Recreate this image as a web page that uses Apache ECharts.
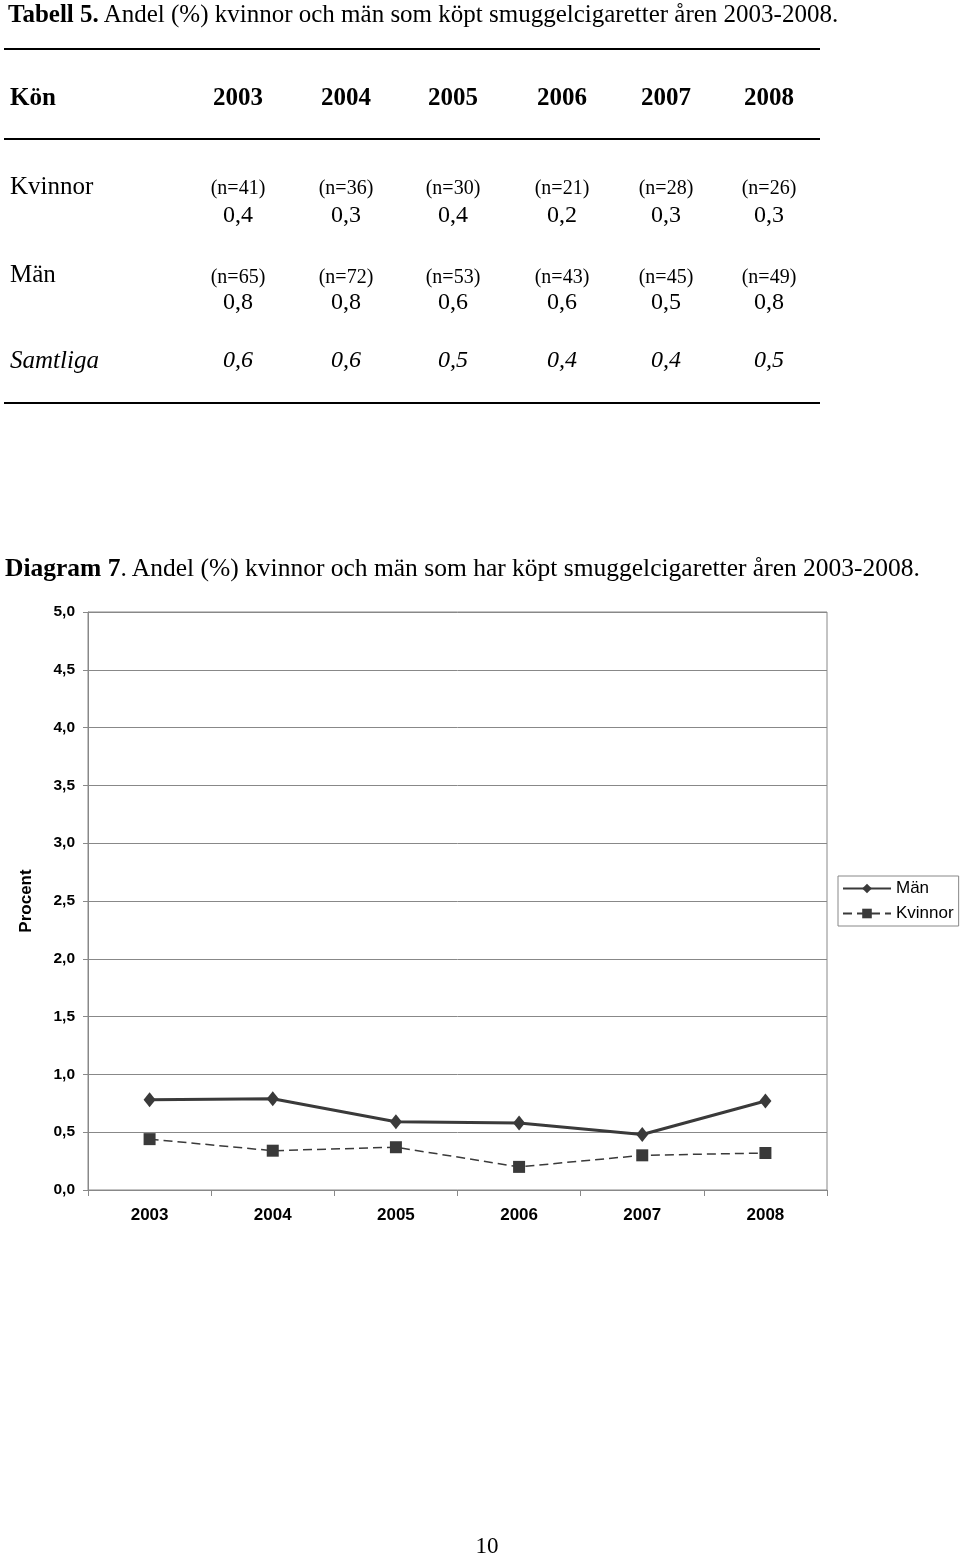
<!DOCTYPE html>
<html><head><meta charset="utf-8">
<script src="https://cdn.jsdelivr.net/npm/echarts@6/dist/echarts.min.js"></script>
<style>
body{margin:0;background:#fff;}
#page{position:relative;width:960px;height:1556px;overflow:hidden;font-family:"Liberation Serif","Times New Roman",serif;color:#000}
#chart{position:absolute;left:0;top:0;width:960px;height:1556px}
.t{position:absolute;white-space:nowrap;transform:translate(-50%,-50%);line-height:1}
.l{position:absolute;white-space:nowrap;transform:translateY(-50%);line-height:1}
.hr{position:absolute;height:1.5px;background:#000}
</style></head>
<body><div id="page"><div id="chart"></div></div>
<script>
// ---- data ----
const years = ['2003','2004','2005','2006','2007','2008'];
const manValues = [0.78,0.79,0.59,0.58,0.48,0.77];
const kvinnorValues = [0.44,0.34,0.37,0.20,0.30,0.32];
const tableKvinnorN = ['(n=41)','(n=36)','(n=30)','(n=21)','(n=28)','(n=26)'];
const tableKvinnorPct = ['0,4','0,3','0,4','0,2','0,3','0,3'];
const tableManN = ['(n=65)','(n=72)','(n=53)','(n=43)','(n=45)','(n=49)'];
const tableManPct = ['0,8','0,8','0,6','0,6','0,5','0,8'];
const tableTotalPct = ['0,6','0,6','0,5','0,4','0,4','0,5'];

// ---- table (HTML text) ----
const page = document.getElementById('page');
const colX = [238,346,453,562,666,769];
function add(cls, x, y, text, style){
  const d = document.createElement('div');
  d.className = cls; d.style.left = x+'px'; d.style.top = y+'px';
  d.innerHTML = text; if(style) d.style.cssText += style; page.appendChild(d); return d;
}
add('l', 8, 13, '<b>Tabell 5.</b> Andel (%) kvinnor och män som köpt smuggelcigaretter åren 2003-2008.', 'font-size:25px');
[48,138,402].forEach(y=>{const h=document.createElement('div');h.className='hr';h.style.left='4px';h.style.width='816px';h.style.top=y+'px';page.appendChild(h);});
add('l', 10, 96, 'Kön', 'font-size:25px;font-weight:bold');
years.forEach((y,i)=>add('t', colX[i], 96, y, 'font-size:25px;font-weight:bold'));
add('l', 10, 185, 'Kvinnor', 'font-size:25px');
tableKvinnorN.forEach((v,i)=>add('t', colX[i], 187, v, 'font-size:20px'));
tableKvinnorPct.forEach((v,i)=>add('t', colX[i], 214, v, 'font-size:24px'));
add('l', 10, 273, 'Män', 'font-size:25px');
tableManN.forEach((v,i)=>add('t', colX[i], 276, v, 'font-size:20px'));
tableManPct.forEach((v,i)=>add('t', colX[i], 301, v, 'font-size:24px'));
add('l', 10, 359, 'Samtliga', 'font-size:25px;font-style:italic');
tableTotalPct.forEach((v,i)=>add('t', colX[i], 359, v, 'font-size:24px;font-style:italic'));
add('l', 5, 568, '<b>Diagram 7</b>. Andel (%) kvinnor och män som har köpt smuggelcigaretter åren 2003-2008.', 'font-size:25.5px');
add('t', 487, 1545, '10', 'font-size:23px');

// ---- chart ----
const chart = echarts.init(document.getElementById('chart'), null, {renderer:'canvas'});
const sans = 'Liberation Sans, Arial, sans-serif';
chart.setOption({
  animation:false,
  grid:{left:88, top:612, width:739, height:578, show:true, borderColor:'#888', borderWidth:1, backgroundColor:'transparent'},
  legend:{
    orient:'vertical', left:838, top:876, borderColor:'#888', borderWidth:1,
    padding:[4,5,4,4], itemWidth:48, itemHeight:12, itemGap:8,
    textStyle:{fontFamily:sans, fontSize:17, color:'#000'},
    data:['Män','Kvinnor']
  },
  xAxis:{
    type:'category', data:years, boundaryGap:true,
    axisLine:{lineStyle:{color:'#888', width:1}},
    axisTick:{show:true, length:6, lineStyle:{color:'#888'}},
    axisLabel:{fontFamily:sans, fontWeight:'bold', fontSize:17, color:'#000', margin:17}
  },
  yAxis:{
    type:'value', min:0, max:5, interval:0.5,
    name:'Procent', nameLocation:'middle', nameGap:53, nameRotate:90,
    nameTextStyle:{fontFamily:sans, fontWeight:'bold', fontSize:17, color:'#000'},
    axisLine:{show:true, lineStyle:{color:'#888'}},
    axisTick:{show:true, length:5, lineStyle:{color:'#888'}},
    axisLabel:{fontFamily:sans, fontWeight:'bold', fontSize:15.5, color:'#000', margin:13,
      formatter:v=>v.toFixed(1).replace('.',',')},
    splitLine:{show:true, lineStyle:{color:'#888', width:1}}
  },
  series:[
    {name:'Män', type:'line', data:manValues, symbol:'diamond', symbolSize:[12,15],
     lineStyle:{color:'#3a3a3a', width:3}, itemStyle:{color:'#3a3a3a'}},
    {name:'Kvinnor', type:'line', data:kvinnorValues, symbol:'rect', symbolSize:12,
     lineStyle:{color:'#3a3a3a', width:1.5, type:[9,5]}, itemStyle:{color:'#3a3a3a'}}
  ]
});
</script>
</body></html>
